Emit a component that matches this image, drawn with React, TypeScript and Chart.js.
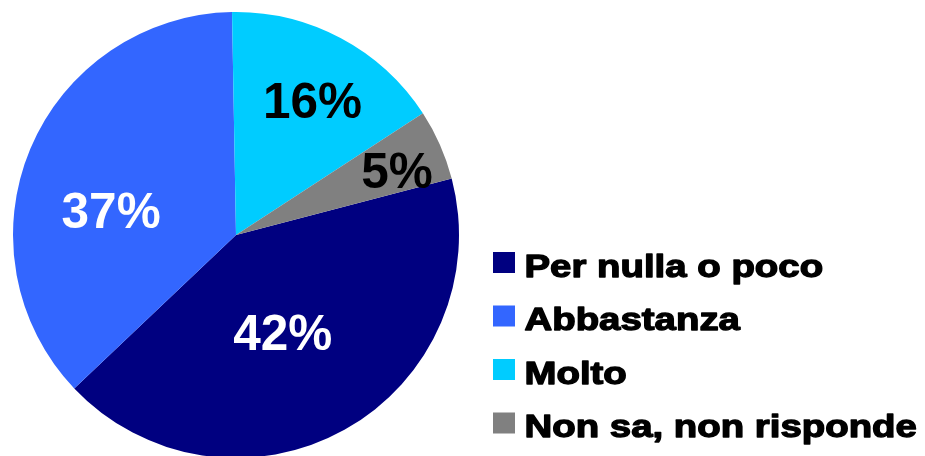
import { useEffect, useRef } from "react";
import Chart from "chart.js/auto";

const categories = ["Per nulla o poco", "Abbastanza", "Molto", "Non sa, non risponde"];
const shares = [42.0, 36.8, 16.1, 5.1];
const sliceColors = ["#000080", "#3366FF", "#00CCFF", "#808080"];
const labelColors = ["#FFFFFF", "#FFFFFF", "#000000", "#000000"];
// label placement: fraction of radius and angular shift (degrees, clockwise) from slice mid-angle
const labelRadiusFrac = [0.485, 0.571, 0.693, 0.778];
const labelAngleShift = [3.45, -11.45, 1.75, 1.95];

const FONT = "'Liberation Sans', Arial, Helvetica, sans-serif";

const pctLabels = {
  id: "pctLabels",
  afterDatasetsDraw(chart: any) {
    const ctx = chart.ctx;
    const meta = chart.getDatasetMeta(0);
    const values = chart.data.datasets[0].data as number[];
    const size = 49.5;
    ctx.save();
    ctx.font = `bold ${size}px ${FONT}`;
    ctx.textAlign = "center";
    ctx.textBaseline = "alphabetic";
    meta.data.forEach((arc: any, i: number) => {
      const p = arc.getProps(["x", "y", "startAngle", "endAngle", "outerRadius"], true);
      const mid = (p.startAngle + p.endAngle) / 2 + (labelAngleShift[i] * Math.PI) / 180;
      const r = p.outerRadius * labelRadiusFrac[i];
      const x = p.x + r * Math.cos(mid);
      const y = p.y + r * Math.sin(mid);
      ctx.fillStyle = labelColors[i];
      ctx.fillText(`${Math.round(values[i])}%`, x, y + size * 0.716 / 2);
    });
    ctx.restore();
  },
};

const sideLegend = {
  id: "sideLegend",
  afterDraw(chart: any) {
    const ctx = chart.ctx;
    const area = chart.chartArea;
    const labels = chart.data.labels as string[];
    const colors = chart.data.datasets[0].backgroundColor as string[];
    const boxX = area.right + 34;
    const textX = boxX + 31.5;
    const firstBase = 276.5;
    const step = 53.5;
    labels.forEach((label, i) => {
      const base = firstBase + i * step;
      ctx.fillStyle = colors[i];
      ctx.fillRect(boxX, base - 24.5, 22, 21);
      ctx.save();
      ctx.translate(textX, base);
      ctx.scale(1.215, 1);
      ctx.font = `bold 31.6px ${FONT}`;
      ctx.fillStyle = "#000000";
      ctx.strokeStyle = "#000000";
      ctx.lineWidth = 1.3;
      ctx.lineJoin = "round";
      ctx.textAlign = "left";
      ctx.textBaseline = "alphabetic";
      ctx.fillText(label, 0, 0);
      ctx.strokeText(label, 0, 0);
      ctx.restore();
    });
  },
};

export default function App() {
  const ref = useRef<HTMLCanvasElement | null>(null);
  useEffect(() => {
    if (!ref.current) return;
    const chart = new Chart(ref.current, {
      type: "pie",
      data: {
        labels: categories,
        datasets: [
          {
            data: shares,
            backgroundColor: sliceColors,
            borderWidth: 0,
          },
        ],
      },
      options: {
        responsive: false,
        animation: false,
        rotation: 75.3,
        layout: { padding: { left: 13, top: 12, right: 466, bottom: 2 } },
        plugins: {
          legend: { display: false },
          tooltip: { enabled: false },
        },
      },
      plugins: [pctLabels, sideLegend],
    });
    return () => chart.destroy();
  }, []);
  return (
    <div style={{ position: "fixed", left: 0, top: 0, width: 925, height: 460, background: "#fff" }}>
      <canvas ref={ref} width={925} height={460} style={{ display: "block" }} />
    </div>
  );
}
